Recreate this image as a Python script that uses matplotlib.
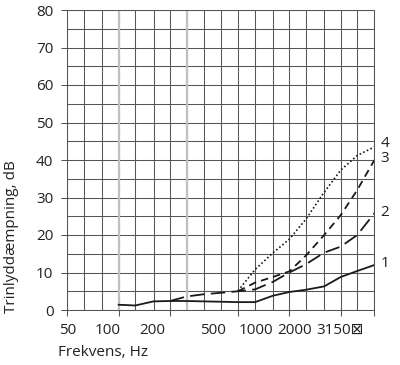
import matplotlib
matplotlib.use("Agg")
import matplotlib.pyplot as plt

# 1/3-octave bands (Hz)
bands = [50, 63, 80, 100, 125, 160, 200, 250, 315, 400, 500, 630, 800,
         1000, 1250, 1600, 2000, 2500, 3150]

# curves
freq1 = bands[3:]
db1 = [1.4, 1.2, 2.3, 2.4, 2.4, 2.3, 2.2, 2.1, 2.1, 3.8, 4.8, 5.4, 6.3, 8.8, 10.4, 12.0]
freq2 = bands[6:]
db2 = [2.4, 3.6, 4.2, 4.6, 5.0, 5.5, 7.5, 10.0, 12.2, 15.3, 16.9, 20.0, 25.8]
freq3 = bands[10:]
db3 = [5.0, 7.3, 8.8, 10.3, 14.5, 20.0, 25.3, 32.0, 40.0]
freq4 = bands[10:]
db4 = [5.1, 10.8, 15.2, 18.9, 24.2, 31.4, 37.3, 41.2, 43.5]

curve_names = ["1", "2", "3", "4"]
xtick_freqs = [50, 100, 200, 500, 1000, 2000, 3150]
xtick_labels = ["50", "100", "200", "500", "1000", "2000", "3150\u22a0"]
yticks = [0, 10, 20, 30, 40, 50, 60, 70, 80]

plt.rcParams['font.family'] = ['Open Sans', 'DejaVu Sans']
plt.rcParams['font.size'] = 11

W, H = 400, 365
fig = plt.figure(figsize=(4.0, 3.65), dpi=100)
ax = fig.add_axes([67.3 / W, 1 - 310 / H, 307.1 / W, 300 / H])

gridc = "#555555"
tc = "#222222"
ax.set_xscale("log")
ax.set_xlim(50, 3150)
ax.set_ylim(0, 80)

# grid
for f in bands:
    ax.axvline(f, color=gridc, lw=0.75, zorder=1)
for v in range(0, 81, 5):
    ax.axhline(v, color=gridc, lw=0.75, zorder=1)
for f in [100, 250]:
    ax.axvline(f, color="#c0c0c0", lw=1.6, zorder=1.5)

for s in ax.spines.values():
    s.set_color(gridc)
    s.set_linewidth(0.75)

ax.set_xticks(xtick_freqs)
ax.set_xticklabels([])
ax.xaxis.set_minor_locator(matplotlib.ticker.NullLocator())
ax.set_yticks(yticks)
ax.set_yticklabels([str(v) for v in yticks])
ax.tick_params(axis="both", length=4, width=0.75, color=gridc, labelcolor=tc)
ax.tick_params(axis="y", pad=6)

ck = "#1a1a1a"
ax.plot(freq1, db1, color=ck, lw=1.3, zorder=3)
ax.plot(freq2, db2, color=ck, lw=1.3, dashes=(8, 3.5), zorder=3)
ax.plot(freq3, db3, color=ck, lw=1.3, dashes=(4.2, 2.8), zorder=3)
ax.plot(freq4, db4, color=ck, lw=1.2, dashes=(1, 1.4), zorder=3)

# curve numbers at the right end
ends = [db1[-1], db2[-1], db3[-1], db4[-1]]
offs = [0.5, 0.3, 0.3, 0.8]
for name, e, o in zip(curve_names, ends, offs):
    ax.text(1.02, (e + o) / 80, name, transform=ax.transAxes, ha="left",
            va="center", color=tc, clip_on=False)

# x tick labels sit a little left of their ticks in the original
label_px = [67.3, 108, 152, 213, 256, 295, 340]
for px, lab in zip(label_px, xtick_labels):
    fig.text(px / W, 1 - 330 / H, lab, ha="center", va="center", color=tc)

fig.text(58 / W, 1 - 352 / H, "Frekvens, Hz", ha="left", va="center", color=tc)
fig.text(12 / W, 1 - 237 / H, "Trinlyddæmpning, dB", rotation=90, ha="center",
         va="center", color=tc)

fig.savefig("out.png", dpi=100)
